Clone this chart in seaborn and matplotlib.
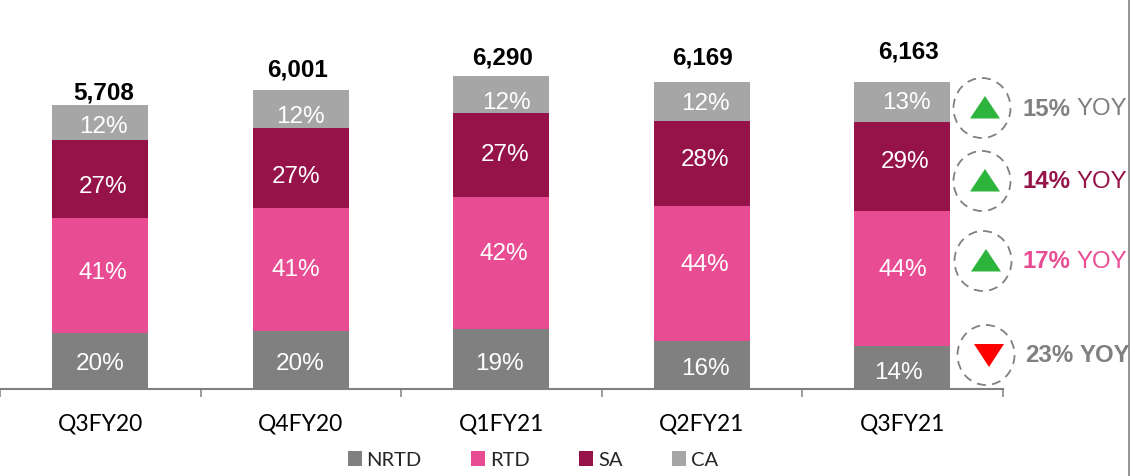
import matplotlib.pyplot as plt
import seaborn as sns
from matplotlib.patches import Ellipse, Polygon

quarters = ["Q3FY20", "Q4FY20", "Q1FY21", "Q2FY21", "Q3FY21"]
totals = [5708, 6001, 6290, 6169, 6163]
nrtd = [1125, 1166, 1206, 965, 864]
rtd = [2311, 2472, 2653, 2713, 2713]
sa = [1568, 1608, 1688, 1708, 1789]
ca = [704, 755, 743, 783, 797]
nrtd_pct = [20, 20, 19, 16, 14]
rtd_pct = [41, 41, 42, 44, 44]
sa_pct = [27, 27, 27, 28, 29]
ca_pct = [12, 12, 12, 12, 13]
yoy_pct = [15, 14, 17, 23]

GREY = "#808080"
PINK = "#E84C93"
WINE = "#951349"
LIGHT = "#A6A6A6"

# labels in the original are hand placed, so nudges are in pixels (positive y = up)
nudge_y = {
    "NRTD": [-3, -4, -5, -4, -5],
    "RTD": [3, 0, 9, 9, 9],
    "SA": [-8, -9, 0, 4, 5],
    "CA": [-4, -8, -8, -2, -1],
}
nudge_x = {
    "NRTD": [0, -1, -2, 4, -4],
    "RTD": [3, -5, 3, 3, 1],
    "SA": [3, -5, 4, 3, 3],
    "CA": [3, 0, 5, 4, 4],
}
total_gap = [12, 20, 18, 24, 30]
total_shift = [3, -3, 1, 1, 6]

sns.set_theme(style="white")
plt.rcParams["font.family"] = ["Liberation Sans", "DejaVu Sans"]

fig = plt.figure(figsize=(11.3, 4.76), dpi=100)
ax = fig.add_axes([0, 1 - 389 / 476, 1002.5 / 1130, 389 / 476])

series = [("NRTD", nrtd, nrtd_pct, GREY), ("RTD", rtd, rtd_pct, PINK),
          ("SA", sa, sa_pct, WINE), ("CA", ca, ca_pct, LIGHT)]
bottom = [0] * 5
for name, vals, pct, col in series:
    sns.barplot(x=quarters, y=vals, bottom=bottom, color=col, width=0.48, label=name,
                saturation=1, ax=ax, legend=False, linewidth=0, edgecolor="none")
    for i, v in enumerate(vals):
        ax.annotate(f"{pct[i]}%", (i, bottom[i] + v / 2),
                    xytext=(nudge_x[name][i] * 0.72, nudge_y[name][i] * 0.72),
                    textcoords="offset points", ha="center", va="center", color="white", fontsize=17.5)
    bottom = [b + v for b, v in zip(bottom, vals)]

for i, t in enumerate(totals):
    ax.annotate(f"{t:,}", (i, bottom[i]), xytext=(total_shift[i] * 0.72, total_gap[i] * 0.72),
                textcoords="offset points", ha="center", va="center", color="black",
                fontsize=17.5, fontweight="bold")

ax.set_xlim(-0.5, 4.5)
ax.set_ylim(0, 389 / 0.04975)
ax.set_yticks([])
ax.set_xlabel("")
sns.despine(ax=ax, left=True)
ax.spines["bottom"].set_color(GREY)
ax.spines["bottom"].set_linewidth(1.5)
ax.set_xticks([-0.5, 0.5, 1.5, 2.5, 3.5, 4.5], labels=[""] * 6)
ax.tick_params(axis="x", bottom=True, length=5.5, width=1.1, color=GREY, direction="out")
for i, q in enumerate(quarters):
    ax.annotate(q, (i, 0), xytext=(0, -35 * 0.72), textcoords="offset points", ha="center", va="center",
                family="Lato", fontsize=16.5, color="black", annotation_clip=False)

handles, labels = ax.get_legend_handles_labels()
leg = ax.legend(handles, labels, ncol=4, loc="center left", bbox_to_anchor=(347.5 / 1002.5, -71 / 389),
                frameon=False, prop={"family": "Lato", "size": 14.5}, handlelength=0.7, handleheight=0.7,
                handletextpad=0.24, columnspacing=2.45, borderpad=0, borderaxespad=0)

# overlay in pixel coordinates for the YOY badges
over = fig.add_axes([0, 0, 1, 1])
over.set_xlim(0, 1130)
over.set_ylim(476, 0)
over.axis("off")
badges = [
    (982, 108, "up", GREY, 1022, True),
    (982, 181, "up", WINE, 1022, True),
    (983, 261, "up", PINK, 1023, True),
    (986, 355, "down", GREY, 1025, False),
]
for (cx, cy, way, col, tx, light), p in zip(badges, yoy_pct):
    over.add_patch(Ellipse((cx, cy), 57, 60, fill=False, ec=GREY, lw=1.3, ls=(0, (5, 3.5))))
    mid = cx + 3
    if way == "up":
        tri = [(mid - 15, cy + 10.5), (mid + 15, cy + 10.5), (mid, cy - 12)]
        tcol = "#2DB43C"
    else:
        tri = [(mid - 15, cy - 11), (mid + 15, cy - 11), (mid, cy + 12)]
        tcol = "#FF0000"
    over.add_patch(Polygon(tri, closed=True, fc=tcol, ec="none"))
    first = over.text(tx, cy + 1, f"{p}%", color=col, fontsize=17.3, fontweight="bold", va="center", ha="left")
    fig.canvas.draw()
    x1 = first.get_window_extent().x1
    over.text(x1 + 6, cy + 1, "YOY", color=col, fontsize=17.3, va="center", ha="left",
              fontweight="normal" if light else "bold")
over.plot([1128.5, 1128.5], [0, 476], color=GREY, lw=1.2)

fig.savefig("out.png", dpi=100)
